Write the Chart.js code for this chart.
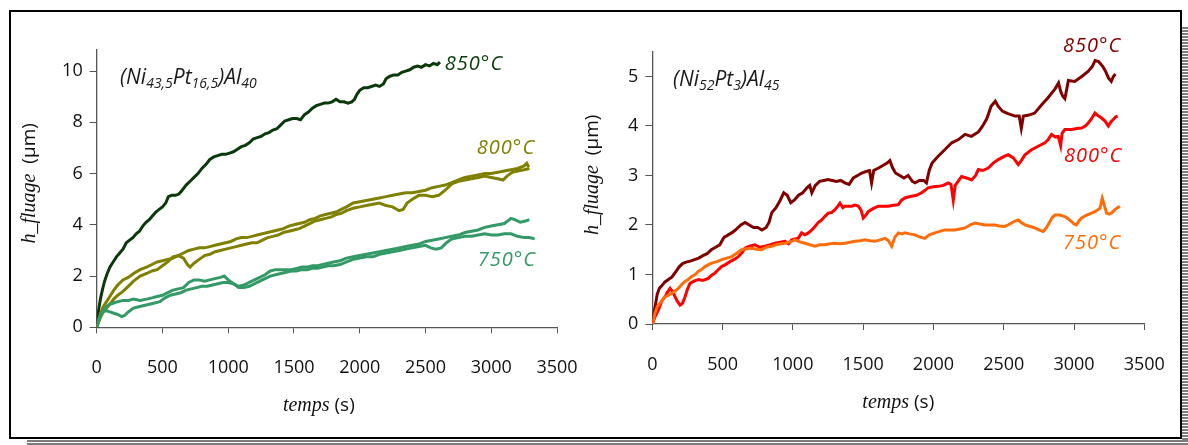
<!DOCTYPE html>
<html>
<head>
<meta charset="utf-8">
<script src="https://cdn.jsdelivr.net/npm/chart.js@4.4.1/dist/chart.umd.min.js"></script>
<style>
  html, body { margin: 0; padding: 0; background: #fff; }
  #page { position: relative; width: 1188px; height: 445px; overflow: hidden; background: #fff; }
  #frame { position: absolute; left: 9px; top: 10px; width: 1173px; height: 429px; box-sizing: border-box; border: 2px solid #000; }
  #shadowR { position: absolute; left: 1182px; top: 27px; width: 6px; height: 418px;
    background: repeating-linear-gradient(to bottom, #7d7d7d 0 2px, #fff 2px 3px); }
  #shadowB { position: absolute; left: 27px; top: 440px; width: 1161px; height: 5px;
    background: linear-gradient(to bottom, #7d7d7d 0 2px, #fff 2px 3px, #7d7d7d 3px 5px); }
  canvas { position: absolute; }
  #left { left: 12px; top: 12px; }
  #right { left: 575px; top: 12px; }
</style>
</head>
<body>
<div id="page">
  <div id="shadowR"></div>
  <div id="shadowB"></div>
  <div id="frame"></div>
  <canvas id="left" width="578" height="422"></canvas>
  <canvas id="right" width="605" height="422"></canvas>
</div>
<script>
// tick labels
const xTicks = [0, 500, 1000, 1500, 2000, 2500, 3000, 3500];
const leftYTicks = [0, 2, 4, 6, 8, 10];
const rightYTicks = [0, 1, 2, 3, 4, 5];

// (Ni43,5Pt16,5)Al40 - 850 °C
const l850T = [0,10,20,30,45,60,80,100,125,150,175,200,225,250,275,300,325,350,375,400,425,450,475,500,525,545,570,600,625,650,680,710,740,770,800,830,860,890,920,950,980,1010,1040,1070,1100,1130,1160,1190,1220,1250,1280,1310,1340,1370,1400,1430,1460,1490,1520,1550,1580,1610,1640,1670,1700,1730,1760,1790,1820,1850,1880,1910,1940,1960,1980,2000,2030,2060,2090,2120,2150,2180,2200,2230,2260,2290,2320,2350,2380,2410,2440,2470,2500,2530,2560,2590,2610];
const l850H = [0,0.5,0.85,1.15,1.5,1.8,2.1,2.35,2.55,2.75,2.9,3.05,3.3,3.4,3.5,3.65,3.75,3.95,4.1,4.2,4.35,4.5,4.6,4.7,4.85,5.1,5.15,5.15,5.2,5.35,5.55,5.7,5.85,6.0,6.2,6.35,6.55,6.65,6.7,6.75,6.75,6.8,6.85,6.95,7.05,7.1,7.2,7.35,7.4,7.45,7.55,7.6,7.7,7.75,7.9,8.05,8.1,8.15,8.15,8.1,8.3,8.4,8.55,8.65,8.7,8.75,8.75,8.8,8.9,8.8,8.8,8.75,8.8,8.9,9.1,9.25,9.35,9.35,9.4,9.45,9.4,9.5,9.7,9.8,9.85,9.85,9.95,10.0,10.05,10.15,10.2,10.15,10.25,10.2,10.3,10.25,10.35];

// 800 °C, two runs
const l800aT = [0,15,30,50,75,100,130,160,200,240,280,330,380,420,460,500,540,580,620,660,700,740,780,820,860,900,940,980,1020,1060,1100,1140,1180,1220,1260,1300,1340,1380,1420,1460,1500,1540,1580,1620,1660,1700,1740,1780,1820,1860,1900,1950,2000,2050,2100,2150,2200,2250,2300,2350,2400,2450,2500,2550,2600,2650,2700,2750,2800,2850,2900,2950,3000,3050,3100,3150,3200,3250,3270,3285];
const l800aH = [0,0.3,0.55,0.8,1.0,1.2,1.45,1.65,1.85,1.95,2.1,2.25,2.35,2.45,2.55,2.6,2.65,2.7,2.8,2.9,3.0,3.05,3.1,3.1,3.15,3.2,3.25,3.3,3.35,3.45,3.5,3.5,3.55,3.6,3.65,3.7,3.75,3.8,3.85,3.95,4.0,4.05,4.1,4.2,4.25,4.35,4.4,4.45,4.5,4.6,4.7,4.85,4.9,4.95,5.0,5.05,5.1,5.15,5.2,5.25,5.25,5.3,5.35,5.45,5.5,5.55,5.65,5.75,5.85,5.9,5.95,6.0,6.0,6.05,6.1,6.15,6.2,6.3,6.4,6.25];
const l800bT = [0,15,30,50,75,100,130,160,200,240,280,330,380,420,460,500,540,580,620,660,690,710,740,780,820,860,900,940,980,1020,1060,1100,1140,1180,1220,1260,1300,1340,1380,1420,1460,1500,1540,1580,1620,1660,1700,1740,1780,1820,1860,1900,1950,2000,2050,2100,2150,2200,2250,2300,2330,2360,2400,2450,2500,2550,2600,2650,2700,2750,2800,2850,2900,2950,3000,3050,3090,3120,3160,3200,3250,3290];
const l800bH = [0,0.2,0.4,0.6,0.75,0.9,1.1,1.25,1.4,1.6,1.8,2.0,2.1,2.2,2.25,2.4,2.55,2.75,2.8,2.7,2.45,2.35,2.5,2.65,2.8,2.85,2.95,3.0,3.05,3.1,3.15,3.2,3.25,3.3,3.3,3.4,3.5,3.55,3.6,3.7,3.75,3.8,3.85,3.95,4.05,4.15,4.2,4.25,4.3,4.4,4.45,4.55,4.65,4.7,4.75,4.8,4.85,4.75,4.7,4.55,4.6,4.85,5.0,5.15,5.15,5.1,5.15,5.35,5.6,5.7,5.75,5.8,5.85,5.9,5.85,5.8,5.75,5.9,6.05,6.1,6.15,6.2];

// 750 °C, two runs
const l750aT = [0,15,30,50,70,100,130,160,200,240,280,330,380,420,460,500,540,580,620,660,700,740,780,820,860,900,940,970,1000,1040,1080,1120,1160,1200,1240,1280,1320,1360,1400,1440,1480,1520,1560,1600,1640,1680,1720,1760,1800,1850,1900,1950,2000,2050,2100,2150,2200,2250,2300,2350,2400,2450,2500,2550,2600,2650,2700,2750,2800,2850,2900,2950,3000,3050,3100,3150,3180,3220,3260,3290];
const l750aH = [0,0.25,0.45,0.65,0.8,0.9,0.95,1.0,1.05,1.05,1.1,1.05,1.1,1.15,1.2,1.25,1.35,1.45,1.5,1.55,1.75,1.85,1.85,1.8,1.85,1.9,1.95,2.0,1.85,1.7,1.6,1.65,1.75,1.85,1.95,2.05,2.2,2.25,2.25,2.25,2.25,2.3,2.35,2.35,2.4,2.4,2.45,2.5,2.55,2.6,2.7,2.75,2.8,2.85,2.9,2.95,3.0,3.05,3.1,3.15,3.2,3.25,3.35,3.4,3.45,3.5,3.55,3.6,3.7,3.75,3.8,3.9,3.95,4.0,4.05,4.25,4.2,4.1,4.15,4.2];
const l750bT = [0,15,30,50,70,100,130,160,190,210,240,280,320,360,400,440,480,520,560,600,640,680,720,760,800,840,880,920,960,1000,1040,1080,1120,1160,1200,1240,1280,1320,1360,1400,1440,1480,1520,1560,1600,1640,1680,1720,1760,1800,1850,1900,1950,2000,2050,2100,2150,2200,2250,2300,2350,2400,2450,2500,2540,2580,2620,2660,2700,2750,2800,2850,2900,2950,3000,3050,3100,3150,3200,3250,3290,3330];
const l750bH = [0,0.3,0.5,0.6,0.65,0.6,0.55,0.5,0.42,0.45,0.6,0.75,0.8,0.85,0.9,0.95,1.0,1.15,1.25,1.3,1.35,1.45,1.5,1.55,1.6,1.6,1.65,1.7,1.75,1.75,1.7,1.55,1.55,1.6,1.7,1.8,1.9,2.0,2.05,2.1,2.15,2.2,2.2,2.25,2.25,2.3,2.3,2.35,2.4,2.4,2.45,2.55,2.65,2.7,2.75,2.75,2.85,2.9,2.95,3.0,3.05,3.1,3.15,3.2,3.1,3.05,3.1,3.3,3.45,3.5,3.55,3.55,3.6,3.65,3.6,3.6,3.65,3.65,3.55,3.5,3.5,3.45];

// (Ni52Pt3)Al45 - 850 °C
const r850T = [0,10,20,35,50,70,90,115,140,165,190,215,240,270,300,330,360,390,420,450,480,510,540,570,600,630,660,690,720,750,780,810,830,850,880,910,935,960,985,1010,1040,1070,1100,1120,1135,1160,1190,1220,1250,1280,1310,1340,1370,1400,1430,1460,1490,1520,1545,1560,1575,1610,1640,1670,1690,1710,1730,1760,1790,1820,1850,1870,1900,1930,1950,1970,1990,2030,2080,2130,2175,2225,2270,2320,2350,2380,2410,2440,2460,2490,2530,2580,2610,2625,2640,2680,2720,2770,2815,2865,2890,2905,2920,2935,2960,3005,3055,3100,3130,3150,3175,3205,3225,3245,3265,3280,3295];
const r850H = [0,0.2,0.35,0.6,0.72,0.78,0.85,0.9,0.95,1.05,1.15,1.22,1.25,1.27,1.3,1.33,1.38,1.42,1.5,1.55,1.6,1.75,1.8,1.85,1.92,2.0,2.05,2.0,1.95,1.95,1.9,1.95,2.05,2.25,2.35,2.5,2.65,2.6,2.45,2.5,2.6,2.65,2.75,2.8,2.65,2.8,2.88,2.9,2.92,2.9,2.88,2.9,2.85,2.82,2.95,3.0,3.05,3.08,3.1,2.85,3.1,3.15,3.2,3.25,3.3,3.15,3.05,3.0,2.95,3.0,2.88,2.85,2.9,2.9,2.85,3.1,3.25,3.38,3.52,3.66,3.72,3.83,3.79,3.88,4.0,4.15,4.4,4.5,4.4,4.3,4.25,4.2,4.2,3.95,4.2,4.22,4.26,4.43,4.57,4.75,4.87,4.7,4.6,4.55,4.92,4.9,5.0,5.1,5.2,5.32,5.3,5.2,5.1,4.97,4.9,5.0,5.05];

// 800 °C
const r800T = [0,20,43,65,90,110,126,145,162,180,197,215,233,250,268,300,330,360,398,420,446,470,493,520,553,580,612,640,659,690,730,765,801,840,873,910,944,970,991,1015,1038,1062,1085,1110,1135,1157,1180,1204,1230,1252,1275,1299,1320,1335,1355,1371,1395,1418,1440,1465,1485,1501,1520,1536,1570,1608,1640,1679,1715,1750,1773,1800,1844,1880,1915,1940,1962,2000,2034,2070,2105,2125,2141,2155,2200,2235,2271,2300,2319,2350,2390,2425,2461,2500,2532,2570,2603,2625,2651,2698,2745,2793,2815,2840,2865,2888,2905,2915,2935,2982,3020,3054,3080,3101,3125,3149,3175,3196,3220,3244,3262,3279,3295,3310];
const r800H = [0,0.15,0.28,0.45,0.55,0.65,0.72,0.65,0.55,0.45,0.38,0.42,0.55,0.7,0.82,0.87,0.9,0.88,0.92,0.98,1.03,1.1,1.16,1.2,1.26,1.3,1.36,1.45,1.53,1.57,1.6,1.55,1.57,1.6,1.63,1.65,1.67,1.62,1.7,1.72,1.73,1.84,1.8,1.84,1.9,1.97,2.05,2.1,2.18,2.24,2.25,2.31,2.38,2.44,2.35,2.38,2.38,2.38,2.4,2.38,2.3,2.14,2.2,2.27,2.33,2.38,2.38,2.38,2.4,2.41,2.5,2.55,2.58,2.6,2.65,2.7,2.75,2.77,2.78,2.8,2.85,2.82,2.5,2.8,2.98,2.95,2.91,3.0,3.12,3.1,3.15,3.25,3.32,3.38,3.42,3.35,3.22,3.3,3.42,3.52,3.59,3.66,3.72,3.83,3.78,3.79,3.6,3.85,3.93,3.93,3.95,3.96,4.0,4.06,4.15,4.26,4.2,4.16,4.1,4.0,4.08,4.13,4.18,4.2];

// 750 °C
const r750T = [0,10,19,35,55,75,90,115,138,160,185,210,233,255,280,305,327,350,375,400,422,460,493,530,564,600,636,670,707,740,778,810,849,880,915,944,980,1015,1050,1086,1120,1157,1190,1228,1265,1299,1335,1371,1405,1442,1480,1513,1550,1584,1620,1655,1680,1703,1725,1750,1775,1797,1830,1868,1900,1939,1970,2010,2045,2081,2115,2152,2190,2224,2260,2295,2330,2366,2400,2437,2470,2508,2530,2556,2580,2603,2625,2651,2690,2722,2750,2781,2805,2829,2845,2864,2900,2935,2960,2982,3000,3018,3035,3054,3090,3125,3155,3185,3201,3215,3232,3250,3267,3280,3291,3310,3326];
const r750H = [0,0.1,0.22,0.35,0.42,0.5,0.55,0.58,0.62,0.66,0.72,0.8,0.86,0.9,0.96,1.0,1.06,1.1,1.16,1.2,1.23,1.26,1.3,1.33,1.36,1.43,1.5,1.52,1.53,1.51,1.5,1.55,1.57,1.6,1.62,1.63,1.66,1.7,1.66,1.63,1.6,1.57,1.6,1.6,1.62,1.63,1.62,1.63,1.65,1.67,1.68,1.7,1.68,1.67,1.7,1.73,1.68,1.57,1.75,1.84,1.82,1.84,1.82,1.8,1.76,1.73,1.8,1.84,1.87,1.9,1.9,1.9,1.92,1.94,2.0,2.04,2.02,2.0,2.0,2.0,1.98,1.97,2.0,2.04,2.08,2.1,2.05,2.0,1.97,1.94,1.9,1.87,1.95,2.07,2.15,2.2,2.2,2.17,2.12,2.07,2.02,2.0,2.08,2.14,2.2,2.24,2.28,2.34,2.54,2.4,2.24,2.22,2.24,2.28,2.31,2.35,2.38];

const SANS = '"Open Sans", "DejaVu Sans", sans-serif';
const SERIF = '"Liberation Serif", "DejaVu Serif", serif';

function pts(ts, hs) {
  return ts.map((t, i) => ({ x: t, y: hs[i] }));
}

function series(ts, hs, color) {
  return {
    data: pts(ts, hs),
    borderColor: color,
    borderWidth: 3,
    pointRadius: 0,
    tension: 0,
    fill: false
  };
}

// draws a row of text pieces with different fonts, centred on cx
function drawRuns(ctx, runs, cx, baseline) {
  let w = 0;
  runs.forEach(r => { ctx.font = r.font; w += ctx.measureText(r.text).width; });
  let x = cx - w / 2;
  runs.forEach(r => {
    ctx.font = r.font;
    ctx.fillText(r.text, x, baseline);
    x += ctx.measureText(r.text).width;
  });
}

const notesPlugin = {
  id: 'notes',
  afterDraw(chart) {
    const cfg = chart.options.plugins.notes;
    if (!cfg) return;
    const ctx = chart.ctx;
    const xs = chart.scales.x, ys = chart.scales.y, area = chart.chartArea;
    ctx.save();
    ctx.textAlign = 'left';
    ctx.textBaseline = 'alphabetic';

    // alloy composition with subscripts
    ctx.fillStyle = '#1a1a1a';
    let x = xs.getPixelForValue(cfg.formula.x);
    const base = ys.getPixelForValue(cfg.formula.y);
    cfg.formula.parts.forEach(([txt, sub]) => {
      ctx.font = sub ? 'italic 14px ' + SANS : 'italic 21px ' + SANS;
      ctx.fillText(txt, x, base + (sub ? 4 : 0));
      x += ctx.measureText(txt).width;
    });

    // temperature labels
    ctx.font = 'italic 20px ' + SANS;
    ctx.textBaseline = 'middle';
    ctx.letterSpacing = '1px';
    cfg.temps.forEach(l => {
      ctx.fillStyle = l.color;
      ctx.fillText(l.text, xs.getPixelForValue(l.x), ys.getPixelForValue(l.y));
    });
    ctx.letterSpacing = '0px';

    // axis titles
    ctx.fillStyle = '#111';
    ctx.textBaseline = 'alphabetic';
    drawRuns(ctx, [
      { text: 'temps', font: 'italic 20px ' + SERIF },
      { text: ' (s)', font: '19px ' + SANS }
    ], (area.left + area.right) / 2 + cfg.xTitleDx, area.bottom + 84);

    ctx.translate(17, (area.top + area.bottom) / 2 + cfg.yTitleDy);
    ctx.rotate(-Math.PI / 2);
    drawRuns(ctx, [
      { text: 'h_fluage', font: 'italic 20px ' + SERIF },
      { text: '  (µm)', font: '19px ' + SANS }
    ], 0, 6);
    ctx.restore();
  }
};

function makeOptions(yMax, yTicks, yWidth, padRight, padTop, notes) {
  const axisColor = '#555';
  return {
    responsive: false,
    animation: false,
    devicePixelRatio: 1,
    layout: { padding: { left: 0, right: padRight, top: padTop, bottom: 0 } },
    plugins: { legend: { display: false }, tooltip: { enabled: false }, notes: notes },
    scales: {
      x: {
        type: 'linear', min: 0, max: 3500,
        afterBuildTicks: s => { s.ticks = xTicks.map(v => ({ value: v })); },
        afterFit: s => {
          s.height = 422 - padTop - notes.plotH;
          s.paddingLeft = 0; s.paddingRight = 0;
        },
        ticks: { color: '#111', font: { family: SANS, size: 18 }, padding: 24, maxRotation: 0,
                 callback: v => String(v) },
        grid: { drawOnChartArea: false, drawTicks: true, tickLength: 6, color: axisColor },
        border: { color: axisColor, width: 1.3 }
      },
      y: {
        type: 'linear', min: 0, max: yMax,
        afterBuildTicks: s => { s.ticks = yTicks.map(v => ({ value: v })); },
        afterFit: s => {
          s.width = yWidth;
          s.paddingTop = 0; s.paddingBottom = 0;
        },
        ticks: { color: '#111', font: { family: SANS, size: 18 }, padding: 7,
                 callback: v => String(v) },
        grid: { drawOnChartArea: false, drawTicks: true, tickLength: 7, color: axisColor },
        border: { color: axisColor, width: 1.3 }
      }
    }
  };
}

new Chart(document.getElementById('left'), {
  type: 'line',
  data: {
    datasets: [
      series(l750aT, l750aH, '#339966'),
      series(l750bT, l750bH, '#339966'),
      series(l800aT, l800aH, '#808000'),
      series(l800bT, l800bH, '#808000'),
      series(l850T, l850H, '#0a3a0a')
    ]
  },
  options: makeOptions(10.85, leftYTicks, 84.7, 33, 37.3, {
    plotH: 278,
    formula: { x: 178, y: 9.5, parts: [['(Ni', 0], ['43,5', 1], ['Pt', 0], ['16,5', 1], [')Al', 0], ['40', 1]] },
    temps: [
      { text: '850°C', x: 2647, y: 10.25, color: '#0a3a0a' },
      { text: '800°C', x: 2890, y: 7.0, color: '#808000' },
      { text: '750°C', x: 2897, y: 2.63, color: '#339966' }
    ],
    xTitleDx: -8,
    yTitleDy: -5
  }),
  plugins: [notesPlugin]
});

new Chart(document.getElementById('right'), {
  type: 'line',
  data: {
    datasets: [
      series(r750T, r750H, '#ff6d0a'),
      series(r800T, r800H, '#ff0000'),
      series(r850T, r850H, '#800000')
    ]
  },
  options: makeOptions(5.5, rightYTicks, 77.3, 35.7, 39.7, {
    plotH: 272.3,
    formula: { x: 147, y: 4.8, parts: [['(Ni', 0], ['52', 1], ['Pt', 0], ['3', 1], [')Al', 0], ['45', 1]] },
    temps: [
      { text: '850°C', x: 2921, y: 5.61, color: '#800000' },
      { text: '800°C', x: 2928, y: 3.38, color: '#ff0000' },
      { text: '750°C', x: 2921, y: 1.62, color: '#ff6d0a' }
    ],
    xTitleDx: 0,
    yTitleDy: -13
  }),
  plugins: [notesPlugin]
});
</script>
</body>
</html>
